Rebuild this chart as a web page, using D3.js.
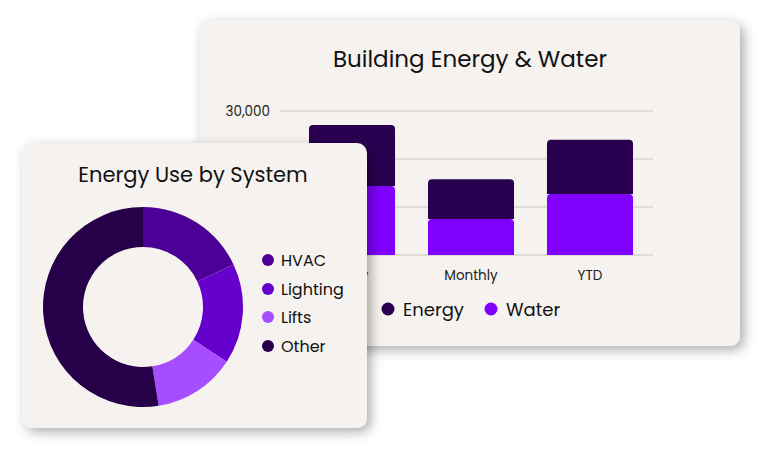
<!DOCTYPE html>
<html><head><meta charset="utf-8">
<script src="https://cdn.jsdelivr.net/npm/d3@7"></script>
<style>
html,body{margin:0;padding:0;background:#fff;}
svg{display:block;font-family:Poppins,"Open Sans",sans-serif;}
</style></head>
<body>
<svg id="chart" width="781" height="469"></svg>
<script>
// ---- data ----
const barCategories = ["Daily", "Monthly", "YTD"];
const waterValues = [14400, 7500, 12700];
const energyValues = [12700, 8300, 11300];
const barSeries = ["Energy", "Water"];
const yTicks = [0, 10000, 20000, 30000];

const donutLabels = ["HVAC", "Lighting", "Lifts", "Other"];
const donutValues = [18, 16.2, 13.3, 52.5];

const colors = {Energy:"#290050", Water:"#7f00ff"};
const donutColors = ["#4c0096", "#6600cc", "#a64dff", "#260048"];

const svg = d3.select("#chart");
const defs = svg.append("defs");
const f = defs.append("filter").attr("id","shadow").attr("x","-20%").attr("y","-20%").attr("width","140%").attr("height","140%");
f.append("feDropShadow").attr("dx",4).attr("dy",4).attr("stdDeviation",6).attr("flood-color","#000").attr("flood-opacity",0.32);

function roundTop(x, y, w, h, r){
  r = Math.min(r, h, w/2);
  return `M${x},${y+h}V${y+r}Q${x},${y} ${x+r},${y}H${x+w-r}Q${x+w},${y} ${x+w},${y+r}V${y+h}Z`;
}

// ---- back card: bar chart ----
const back = svg.append("g");
back.append("rect").attr("x",199).attr("y",20).attr("width",541).attr("height",326)
  .attr("rx",10).attr("fill","#f5f2ef").attr("filter","url(#shadow)");
back.append("text").attr("x",470).attr("y",67).attr("text-anchor","middle")
  .attr("font-size",23).attr("fill","#111").text("Building Energy & Water");

const y = d3.scaleLinear().domain([0,30000]).range([255,111]);
const x = d3.scaleBand().domain(barCategories).range([309,633]).paddingInner(0.277).paddingOuter(0);

const grid = back.append("g");
grid.selectAll("line").data(yTicks).join("line")
  .attr("x1",280).attr("x2",653).attr("y1",d=>y(d)).attr("y2",d=>y(d))
  .attr("stroke","#c8c4c2").attr("stroke-width",1);
grid.selectAll("text").data(yTicks).join("text")
  .attr("x",270).attr("y",d=>y(d)+4.5).attr("text-anchor","end")
  .attr("font-size",13.5).attr("fill","#222").text(d=>d3.format(",")(d));

const stackData = barCategories.map((c,i)=>({cat:c, Water:waterValues[i], Energy:energyValues[i]}));
const stacked = d3.stack().keys(["Water","Energy"])(stackData);
stacked.forEach(layer=>{
  back.append("g").selectAll("path").data(layer).join("path")
    .attr("d",d=>roundTop(x(d.data.cat), y(d[1]), x.bandwidth(), y(d[0])-y(d[1]), 4))
    .attr("fill",colors[layer.key]);
});
back.append("g").selectAll("text").data(barCategories).join("text")
  .attr("x",d=>x(d)+x.bandwidth()/2).attr("y",280).attr("text-anchor","middle")
  .attr("font-size",13.5).attr("fill","#222").text(d=>d);

const bl = back.append("g");
const blX = [388, 491];
barSeries.forEach((s,i)=>{
  bl.append("circle").attr("cx",blX[i]).attr("cy",309).attr("r",6.5).attr("fill",colors[s]);
  bl.append("text").attr("x",blX[i]+15).attr("y",315.5).attr("font-size",18).attr("fill","#111").text(s);
});

// ---- front card: donut ----
const front = svg.append("g");
front.append("rect").attr("x",22).attr("y",143).attr("width",345).attr("height",285)
  .attr("rx",10).attr("fill","#f5f2ef").attr("filter","url(#shadow)");
front.append("text").attr("x",193).attr("y",182).attr("text-anchor","middle")
  .attr("font-size",21).attr("fill","#111").text("Energy Use by System");

const pie = d3.pie().sort(null).value(d=>d)(donutValues);
const arc = d3.arc().innerRadius(60).outerRadius(100);
front.append("g").attr("transform","translate(143,307)")
  .selectAll("path").data(pie).join("path")
  .attr("d",arc).attr("fill",(d,i)=>donutColors[i]);

const dl = front.append("g");
const dlY = [260, 289, 317, 346];
donutLabels.forEach((l,i)=>{
  dl.append("circle").attr("cx",268).attr("cy",dlY[i]).attr("r",6).attr("fill",donutColors[i]);
  dl.append("text").attr("x",281).attr("y",dlY[i]+5.5).attr("font-size",16).attr("fill","#111").text(l);
});
</script>
</body></html>
